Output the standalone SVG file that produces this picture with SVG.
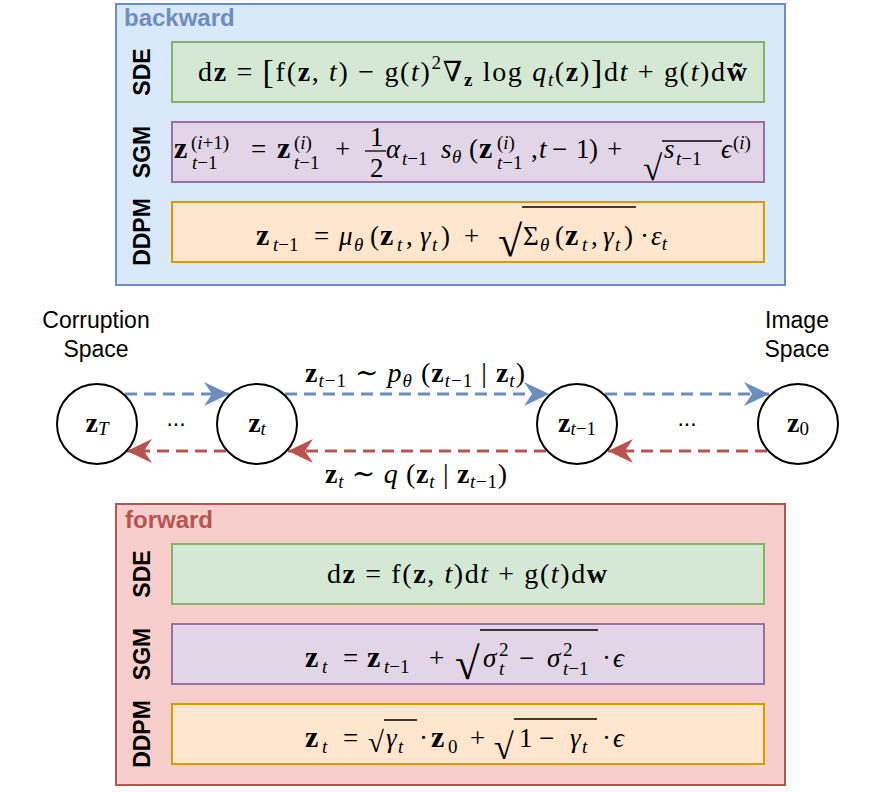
<svg xmlns="http://www.w3.org/2000/svg" width="895" height="792" viewBox="0 0 895 792">
<style>
.m{font-family:"Liberation Serif","DejaVu Serif",serif;font-size:28px;fill:#000}
.k{font-size:27px}
.s{font-size:19px}
.b{font-weight:bold}
.z{font-weight:bold;font-size:30px}
.i{font-style:italic}
.lab{font-family:"Liberation Sans",Arial,sans-serif;font-size:23px;font-weight:bold;fill:#000}
.ttl{font-family:"Liberation Sans",Arial,sans-serif;font-size:24px;font-weight:bold}
.sp{font-family:"Liberation Sans",Arial,sans-serif;font-size:23px;fill:#000}
.sde{fill:#d5e8d4;stroke:#82b366;stroke-width:2}
.sgm{fill:#e1d5e7;stroke:#9673a6;stroke-width:2}
.ddpm{fill:#ffe6cc;stroke:#d79b00;stroke-width:2}
.node{fill:#fff;stroke:#000;stroke-width:2}
.bl{stroke:#6c8ebf;stroke-width:3;stroke-dasharray:12 7;fill:none}
.rd{stroke:#b85450;stroke-width:3;stroke-dasharray:12 7;fill:none}
.bar{stroke:#000;stroke-width:1.3}
</style>
<defs>
<marker id="ab" markerUnits="userSpaceOnUse" markerWidth="26" markerHeight="26" refX="25" refY="12" orient="auto"><path d="M0,0 L25,12 L0,24 L8,12 Z" fill="#6c8ebf" stroke="none"/></marker>
<marker id="ar" markerUnits="userSpaceOnUse" markerWidth="26" markerHeight="26" refX="25" refY="12" orient="auto"><path d="M0,0 L25,12 L0,24 L8,12 Z" fill="#b85450" stroke="none"/></marker>
</defs>
<rect width="895" height="792" fill="#fff"/>

<g id="backward">
<rect x="116" y="4" width="669" height="281" fill="#dae8fc" stroke="#6c8ebf" stroke-width="2"/>
<text class="ttl" x="124" y="26" fill="#6c8ebf">backward</text>
</g>
<g id="bw-sde">
<text class="lab" transform="translate(150,72) rotate(-90)" text-anchor="middle">SDE</text>
<rect class="sde" x="172" y="42" width="592" height="60"/>
<text class="m" x="198" y="81" textLength="549" lengthAdjust="spacing">d<tspan class="b">z</tspan> = <tspan font-size="34" dy="2">[</tspan><tspan dy="-2">f(</tspan><tspan class="b">z</tspan>, <tspan class="i">t</tspan>) − g(<tspan class="i">t</tspan>)<tspan class="s" dy="-12">2</tspan><tspan dy="12">∇</tspan><tspan class="s b" dy="5">z</tspan><tspan dy="-5"> log </tspan><tspan class="i">q</tspan><tspan class="s i" dy="5">t</tspan><tspan dy="-5">(</tspan><tspan class="b">z</tspan>)<tspan font-size="34" dy="2">]</tspan><tspan dy="-2">d</tspan><tspan class="i">t</tspan> + g(<tspan class="i">t</tspan>)d<tspan class="b">w̃</tspan></text>
</g>
<g id="bw-sgm">
<text class="lab" transform="translate(150,152) rotate(-90)" text-anchor="middle">SGM</text>
<rect class="sgm" x="172" y="122" width="592" height="60"/>
<g class="m k">
<text x="174" y="158" class="z">z</text>
<text x="191" y="149" class="s">(<tspan class="i">i</tspan>+1)</text>
<text x="192" y="169" class="s"><tspan class="i">t</tspan>−1</text>
<text x="251" y="158">=</text>
<text x="277" y="158" class="z">z</text>
<text x="294" y="149" class="s">(<tspan class="i">i</tspan>)</text>
<text x="294" y="169" class="s"><tspan class="i">t</tspan>−1</text>
<text x="335" y="158">+</text>
<text x="370" y="146">1</text>
<line class="bar" x1="365" y1="151" x2="386" y2="151"/>
<text x="370" y="177">2</text>
<text x="386" y="158" class="i">α</text>
<text x="402" y="165" class="s"><tspan class="i">t</tspan>−1</text>
<text x="441" y="158" class="i">s</text>
<text x="452" y="163" class="s i">θ</text>
<text x="469" y="158">(</text>
<text x="479" y="158" class="z">z</text>
<text x="497" y="149" class="s">(<tspan class="i">i</tspan>)</text>
<text x="497" y="169" class="s"><tspan class="i">t</tspan>−1</text>
<text x="531" y="158">,</text>
<text x="539" y="158" class="i">t</text>
<text x="552" y="158">−</text>
<text x="576" y="158">1</text>
<text x="589" y="158">)</text>
<text x="607" y="158">+</text>
<text x="643" y="180" font-size="35">√</text>
<line class="bar" x1="662" y1="141" x2="722" y2="141"/>
<text x="664" y="158" class="i">s</text>
<text x="676" y="165" class="s"><tspan class="i">t</tspan>−1</text>
<text x="721" y="158" class="i">ϵ</text>
<text x="733" y="149" class="s">(<tspan class="i">i</tspan>)</text>
</g>
</g>
<g id="bw-ddpm">
<text class="lab" transform="translate(150,232) rotate(-90)" text-anchor="middle">DDPM</text>
<rect class="ddpm" x="172" y="202" width="592" height="60"/>
<g class="m k">
<text x="256" y="245" class="z">z</text>
<text x="273" y="251" class="s"><tspan class="i">t</tspan>−1</text>
<text x="314" y="245">=</text>
<text x="339" y="245" class="i">μ</text>
<text x="354" y="251" class="s i">θ</text>
<text x="370" y="245">(</text>
<text x="380" y="245" class="z">z</text>
<text x="397" y="251" class="s i">t</text>
<text x="406" y="245">,</text>
<text x="420" y="245" class="i">γ</text>
<text x="432" y="251" class="s i">t</text>
<text x="441" y="245">)</text>
<text x="464" y="245">+</text>
<text x="498" y="256" font-size="44">√</text>
<line class="bar" x1="522" y1="207" x2="636" y2="207"/>
<text x="523" y="245">Σ</text>
<text x="540" y="251" class="s i">θ</text>
<text x="555" y="245">(</text>
<text x="565" y="245" class="z">z</text>
<text x="582" y="251" class="s i">t</text>
<text x="591" y="245">,</text>
<text x="603" y="245" class="i">γ</text>
<text x="615" y="251" class="s i">t</text>
<text x="624" y="245">)</text>
<text x="640" y="245">·</text>
<text x="651" y="245" class="i">ε<tspan class="s" dy="5">t</tspan></text>
</g>
</g>

<g id="connectors">
<line class="bl" x1="125" y1="394" x2="229" y2="394" marker-end="url(#ab)"/>
<line class="bl" x1="285" y1="394" x2="549" y2="394" marker-end="url(#ab)"/>
<line class="bl" x1="605" y1="394" x2="769" y2="394" marker-end="url(#ab)"/>
<line class="rd" x1="767" y1="451" x2="608" y2="451" marker-end="url(#ar)"/>
<line class="rd" x1="546" y1="451" x2="288" y2="451" marker-end="url(#ar)"/>
<line class="rd" x1="226" y1="451" x2="127" y2="451" marker-end="url(#ar)"/>
<text class="m" x="305" y="382" font-size="24" textLength="220" lengthAdjust="spacing"><tspan class="b">z</tspan><tspan class="s" dy="5"><tspan class="i">t</tspan>−1</tspan><tspan dy="-5"> ∼ </tspan><tspan class="i">p</tspan><tspan class="s i" dy="5">θ</tspan><tspan dy="-5"> (</tspan><tspan class="b">z</tspan><tspan class="s" dy="5"><tspan class="i">t</tspan>−1</tspan><tspan dy="-5"> | </tspan><tspan class="b">z</tspan><tspan class="s i" dy="5">t</tspan><tspan dy="-5">)</tspan></text>
<text class="m" x="325" y="483" font-size="24" textLength="182" lengthAdjust="spacing"><tspan class="b">z</tspan><tspan class="s i" dy="5">t</tspan><tspan dy="-5"> ∼ </tspan><tspan class="i">q</tspan><tspan> (</tspan><tspan class="b">z</tspan><tspan class="s i" dy="5">t</tspan><tspan dy="-5"> | </tspan><tspan class="b">z</tspan><tspan class="s" dy="5"><tspan class="i">t</tspan>−1</tspan><tspan dy="-5">)</tspan></text>
</g>

<g id="corruption-label"><text class="sp" text-anchor="middle"><tspan x="96" y="328">Corruption</tspan><tspan x="96" y="357">Space</tspan></text></g>
<g id="image-label"><text class="sp" text-anchor="middle"><tspan x="797" y="328">Image</tspan><tspan x="797" y="357">Space</tspan></text></g>

<g id="node-zT"><circle class="node" cx="97" cy="424" r="40"/><text class="m" x="97" y="432" text-anchor="middle"><tspan class="b">z</tspan><tspan class="s i" dy="3">T</tspan></text></g>
<g id="dots1"><text class="sp" x="176" y="426" text-anchor="middle">...</text></g>
<g id="node-zt"><circle class="node" cx="257" cy="424" r="40"/><text class="m" x="257" y="432" text-anchor="middle"><tspan class="b">z</tspan><tspan class="s i" dy="3">t</tspan></text></g>
<g id="node-zt1"><circle class="node" cx="577" cy="424" r="40"/><text class="m" x="577" y="432" text-anchor="middle"><tspan class="b">z</tspan><tspan class="s" dy="3"><tspan class="i">t</tspan>−1</tspan></text></g>
<g id="dots2"><text class="sp" x="687" y="426" text-anchor="middle">...</text></g>
<g id="node-z0"><circle class="node" cx="798" cy="424" r="40"/><text class="m" x="798" y="432" text-anchor="middle"><tspan class="b">z</tspan><tspan class="s" dy="3">0</tspan></text></g>

<g id="forward">
<rect x="116" y="504" width="669" height="281" fill="#f8cecc" stroke="#b85450" stroke-width="2"/>
<text class="ttl" x="125" y="528" fill="#b85450">forward</text>
</g>
<g id="fw-sde">
<text class="lab" transform="translate(150,574) rotate(-90)" text-anchor="middle">SDE</text>
<rect class="sde" x="172" y="544" width="592" height="60"/>
<text class="m" x="327" y="583" textLength="280" lengthAdjust="spacing">d<tspan class="b">z</tspan> = f(<tspan class="b">z</tspan>, <tspan class="i">t</tspan>)d<tspan class="i">t</tspan> + g(<tspan class="i">t</tspan>)d<tspan class="b">w</tspan></text>
</g>
<g id="fw-sgm">
<text class="lab" transform="translate(150,654) rotate(-90)" text-anchor="middle">SGM</text>
<rect class="sgm" x="172" y="624" width="592" height="60"/>
<g class="m k">
<text x="305" y="667" class="z">z</text>
<text x="322" y="673" class="s i">t</text>
<text x="343" y="667">=</text>
<text x="367" y="667" class="z">z</text>
<text x="384" y="673" class="s"><tspan class="i">t</tspan>−1</text>
<text x="429" y="667">+</text>
<text x="455" y="679" font-size="45">√</text>
<line class="bar" x1="480" y1="630" x2="598" y2="630"/>
<text x="483" y="667" class="i">σ</text>
<text x="499" y="656" class="s">2</text>
<text x="499" y="675" class="s i">t</text>
<text x="519" y="667">−</text>
<text x="547" y="667" class="i">σ</text>
<text x="563" y="656" class="s">2</text>
<text x="563" y="675" class="s"><tspan class="i">t</tspan>−1</text>
<text x="602" y="667">·</text>
<text x="613" y="667" class="i">ϵ</text>
</g>
</g>
<g id="fw-ddpm">
<text class="lab" transform="translate(150,734) rotate(-90)" text-anchor="middle">DDPM</text>
<rect class="ddpm" x="172" y="704" width="592" height="60"/>
<g class="m k">
<text x="305" y="747" class="z">z</text>
<text x="322" y="753" class="s i">t</text>
<text x="343" y="747">=</text>
<text x="368" y="752" font-size="29">√</text>
<line class="bar" x1="384" y1="720" x2="417" y2="720"/>
<text x="386" y="747" class="i">γ</text>
<text x="398" y="753" class="s i">t</text>
<text x="419" y="747">·</text>
<text x="431" y="747" class="z">z</text>
<text x="448" y="753" class="s">0</text>
<text x="470" y="747">+</text>
<text x="494" y="759" font-size="36">√</text>
<line class="bar" x1="514" y1="719" x2="597" y2="719"/>
<text x="519" y="747">1</text>
<text x="539" y="747">−</text>
<text x="570" y="747" class="i">γ</text>
<text x="582" y="753" class="s i">t</text>
<text x="602" y="747">·</text>
<text x="613" y="747" class="i">ϵ</text>
</g>
</g>
</svg>
